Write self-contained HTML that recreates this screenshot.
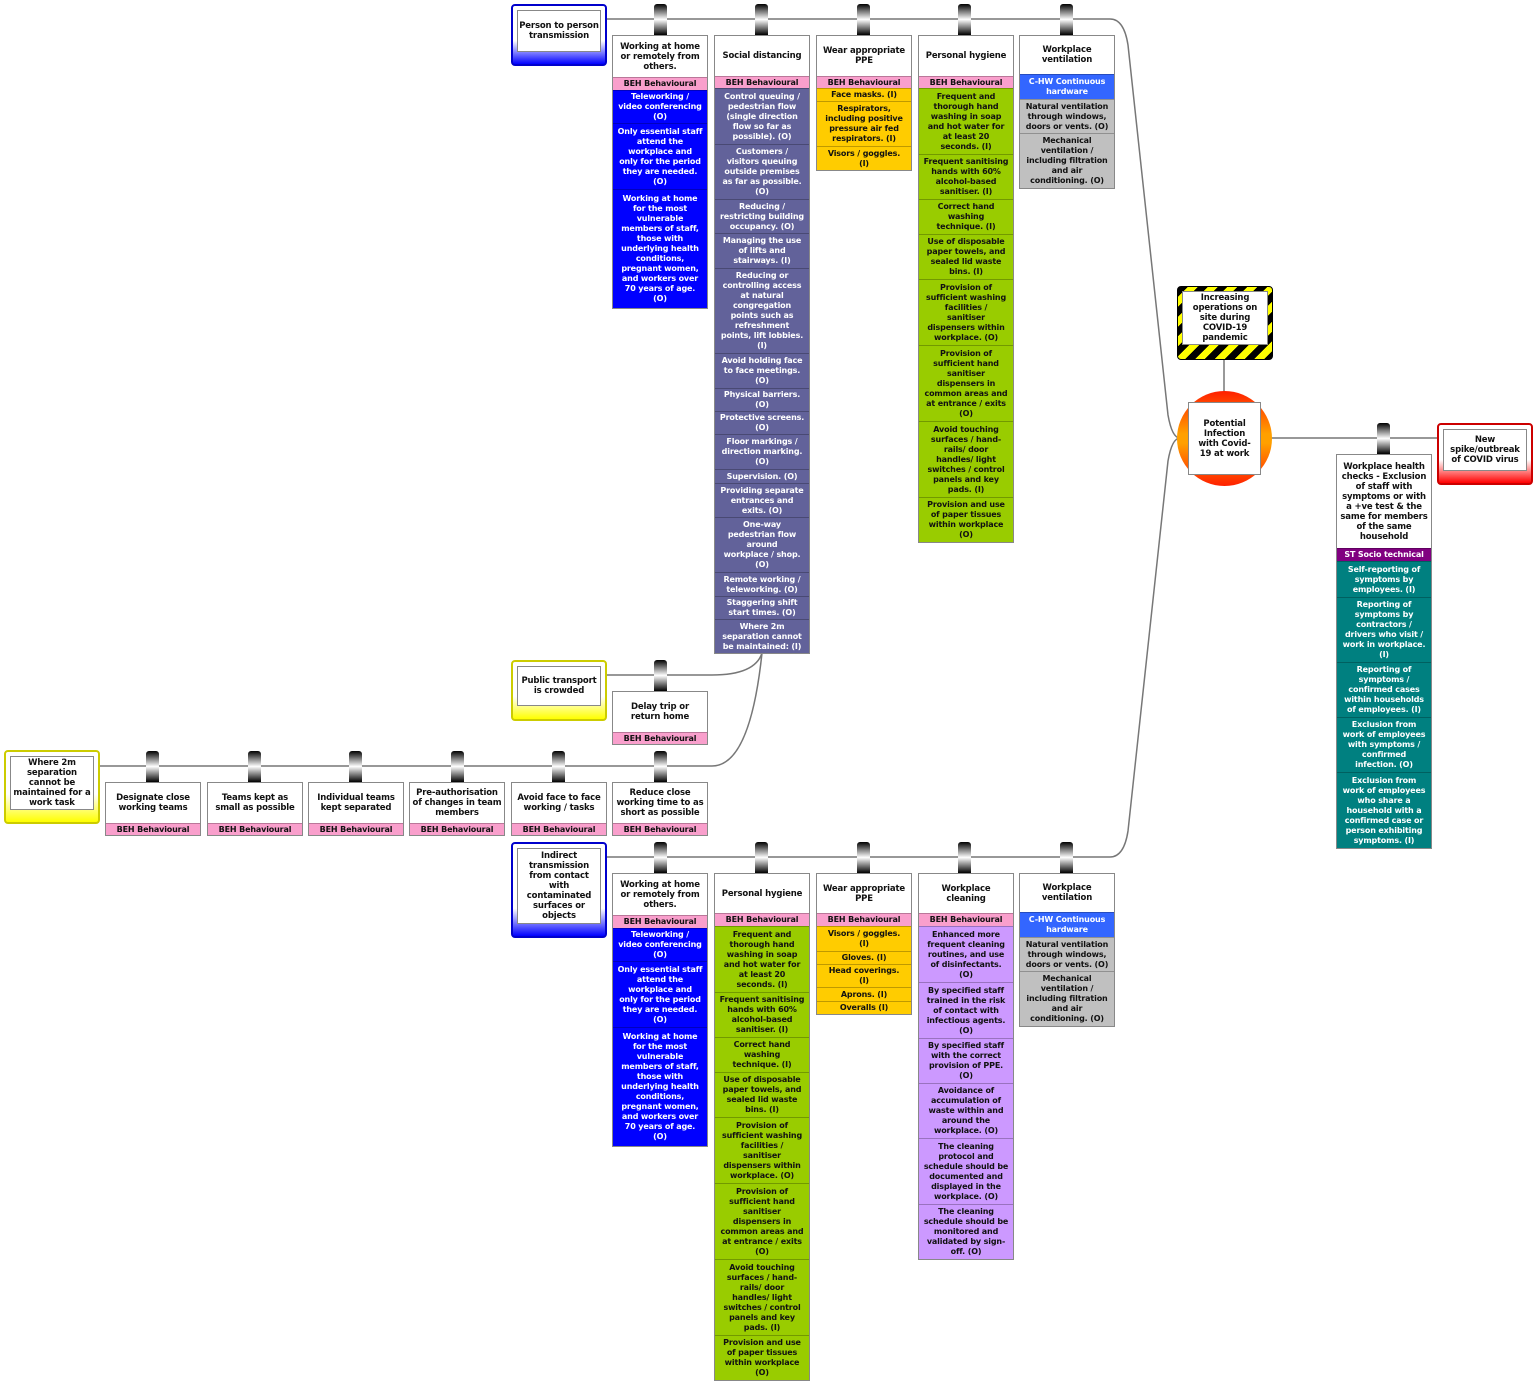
<!DOCTYPE html>
<html><head><meta charset="utf-8">
<style>
*{box-sizing:border-box;margin:0;padding:0}
body{width:1536px;height:1384px;background:#fff;position:relative;overflow:hidden;font-family:"DejaVu Sans","Liberation Sans",sans-serif;font-weight:bold;font-size:8px;line-height:10px;letter-spacing:-0.15px}
.col{position:absolute;width:96px;border:1px solid #888;background:#fff}
.c{display:flex;align-items:center;justify-content:center;text-align:center;overflow:hidden;border-top:1px solid rgba(0,0,0,.25);padding:0 1px}
.h{color:#111;font-size:8.5px;border-top:none}
.beh{background:#f99fcc;color:#111}
.bl{background:#0000ff;color:#fff}
.sl{background:#62629a;color:#fff}
.ye{background:#ffcc00;color:#111}
.gr{background:#99cc00;color:#111}
.gy{background:#c0c0c0;color:#111}
.hw{background:#3366ff;color:#fff}
.pu{background:#cc99ff;color:#111}
.te{background:#008080;color:#fff}
.st{background:#800080;color:#fff}
.peg{position:absolute;width:13px;height:31px;border-radius:3px 3px 0 0;background:linear-gradient(#000,#fff 50%,#000)}
.hz{position:absolute;border-radius:4px;padding:4px}
.hz div{background:#fff;border:1px solid #888;display:flex;align-items:center;justify-content:center;text-align:center;color:#111;font-size:8.5px}
</style></head><body>
<svg width="1536" height="1384" style="position:absolute;left:0;top:0" fill="none" stroke="#777" stroke-width="1.5">
<path d="M606,19 H1110 Q1124,19 1128,45 L1168,415 Q1172,438 1180,438"/>
<path d="M606,857 H1110 Q1124,857 1128,831 L1168,461 Q1172,438 1180,438"/>
<path d="M606,675 H712 Q755,675 762,653"/>
<path d="M100,766 H712 Q750,766 762,653"/>
<path d="M1224,359 V392"/>
<path d="M1270,438 H1437"/>
</svg>

<!-- hazards -->
<div class="hz" style="left:511px;top:4px;width:96px;height:62px;background:linear-gradient(#fff 60%,#0000ff);border:2px solid #0000cc"><div style="height:42px">Person to person<br>transmission</div></div>
<div class="hz" style="left:511px;top:842px;width:96px;height:96px;background:linear-gradient(#fff 70%,#0000ff);border:2px solid #0000cc"><div style="height:76px">Indirect<br>transmission<br>from contact<br>with<br>contaminated<br>surfaces or<br>objects</div></div>
<div class="hz" style="left:511px;top:660px;width:96px;height:61px;background:linear-gradient(#fff 60%,#ffff00);border:2px solid #cccc00"><div style="height:40px">Public transport<br>is crowded</div></div>
<div class="hz" style="left:4px;top:750px;width:96px;height:74px;background:linear-gradient(#fff 60%,#ffff00);border:2px solid #cccc00"><div style="height:54px">Where 2m<br>separation<br>cannot be<br>maintained for a<br>work task</div></div>
<div class="hz" style="left:1437px;top:423px;width:96px;height:62px;background:linear-gradient(#fff 60%,#ff0000);border:2px solid #cc0000"><div style="height:42px">New<br>spike/outbreak<br>of COVID virus</div></div>
<div class="hz" style="left:1177px;top:286px;width:96px;height:74px;background:repeating-linear-gradient(135deg,#000 0 7px,#ffff00 7px 14px);border:1px solid #000"><div style="height:54px">Increasing<br>operations on<br>site during<br>COVID-19<br>pandemic</div></div>
<div style="position:absolute;left:1177px;top:391px;width:95px;height:95px;border-radius:50%;background:linear-gradient(#ff2000,#ffa000 45%,#ffa000 55%,#ff2000)"></div>
<div class="hz" style="left:1187px;top:401px;width:75px;height:75px;padding:0"><div style="height:73px;width:73px;margin:1px">Potential<br>Infection<br>with Covid-<br>19 at work</div></div>

<!-- pegs -->
<div class="peg" style="left:654px;top:4px"></div><div class="peg" style="left:755px;top:4px"></div><div class="peg" style="left:857px;top:4px"></div><div class="peg" style="left:958px;top:4px"></div><div class="peg" style="left:1060px;top:4px"></div>
<div class="peg" style="left:654px;top:842px"></div><div class="peg" style="left:755px;top:842px"></div><div class="peg" style="left:857px;top:842px"></div><div class="peg" style="left:958px;top:842px"></div><div class="peg" style="left:1060px;top:842px"></div>
<div class="peg" style="left:654px;top:660px"></div>
<div class="peg" style="left:146px;top:751px"></div><div class="peg" style="left:248px;top:751px"></div><div class="peg" style="left:349px;top:751px"></div><div class="peg" style="left:451px;top:751px"></div><div class="peg" style="left:552px;top:751px"></div><div class="peg" style="left:654px;top:751px"></div>
<div class="peg" style="left:1377px;top:423px"></div>

<!-- top row -->
<div class="col" style="left:612px;top:35px">
<div class="c h" style="height:41px">Working at home<br>or remotely from<br>others.</div>
<div class="c beh" style="height:13px">BEH Behavioural</div>
<div class="c bl" style="height:33px">Teleworking /<br>video conferencing<br>(O)</div>
<div class="c bl" style="height:66px">Only essential staff<br>attend the<br>workplace and<br>only for the period<br>they are needed.<br>(O)</div>
<div class="c bl" style="height:119px">Working at home<br>for the most<br>vulnerable<br>members of staff,<br>those with<br>underlying health<br>conditions,<br>pregnant women,<br>and workers over<br>70 years of age.<br>(O)</div>
</div>
<div class="col" style="left:714px;top:35px">
<div class="c h" style="height:40px">Social distancing</div>
<div class="c beh" style="height:12px">BEH Behavioural</div>
<div class="c sl" style="height:56px">Control queuing /<br>pedestrian flow<br>(single direction<br>flow so far as<br>possible). (O)</div>
<div class="c sl" style="height:55px">Customers /<br>visitors queuing<br>outside premises<br>as far as possible.<br>(O)</div>
<div class="c sl" style="height:34px">Reducing /<br>restricting building<br>occupancy. (O)</div>
<div class="c sl" style="height:35px">Managing the use<br>of lifts and<br>stairways. (I)</div>
<div class="c sl" style="height:85px">Reducing or<br>controlling access<br>at natural<br>congregation<br>points such as<br>refreshment<br>points, lift lobbies.<br>(I)</div>
<div class="c sl" style="height:35px">Avoid holding face<br>to face meetings.<br>(O)</div>
<div class="c sl" style="height:23px">Physical barriers.<br>(O)</div>
<div class="c sl" style="height:23px">Protective screens.<br>(O)</div>
<div class="c sl" style="height:35px">Floor markings /<br>direction marking.<br>(O)</div>
<div class="c sl" style="height:14px">Supervision. (O)</div>
<div class="c sl" style="height:34px">Providing separate<br>entrances and<br>exits. (O)</div>
<div class="c sl" style="height:55px">One-way<br>pedestrian flow<br>around<br>workplace / shop.<br>(O)</div>
<div class="c sl" style="height:24px">Remote working /<br>teleworking. (O)</div>
<div class="c sl" style="height:23px">Staggering shift<br>start times. (O)</div>
<div class="c sl" style="height:34px">Where 2m<br>separation cannot<br>be maintained: (I)</div>
</div>
<div class="col" style="left:816px;top:35px">
<div class="c h" style="height:40px">Wear appropriate<br>PPE</div>
<div class="c beh" style="height:12px">BEH Behavioural</div>
<div class="c ye" style="height:13px">Face masks. (I)</div>
<div class="c ye" style="height:45px">Respirators,<br>including positive<br>pressure air fed<br>respirators. (I)</div>
<div class="c ye" style="height:24px">Visors / goggles.<br>(I)</div>
</div>
<div class="col" style="left:918px;top:35px">
<div class="c h" style="height:40px">Personal hygiene</div>
<div class="c beh" style="height:12px">BEH Behavioural</div>
<div class="c gr" style="height:66px">Frequent and<br>thorough hand<br>washing in soap<br>and hot water for<br>at least 20<br>seconds. (I)</div>
<div class="c gr" style="height:45px">Frequent sanitising<br>hands with 60%<br>alcohol-based<br>sanitiser. (I)</div>
<div class="c gr" style="height:35px">Correct hand<br>washing<br>technique. (I)</div>
<div class="c gr" style="height:45px">Use of disposable<br>paper towels, and<br>sealed lid waste<br>bins. (I)</div>
<div class="c gr" style="height:66px">Provision of<br>sufficient washing<br>facilities /<br>sanitiser<br>dispensers within<br>workplace. (O)</div>
<div class="c gr" style="height:76px">Provision of<br>sufficient hand<br>sanitiser<br>dispensers in<br>common areas and<br>at entrance / exits<br>(O)</div>
<div class="c gr" style="height:76px">Avoid touching<br>surfaces / hand-<br>rails/ door<br>handles/ light<br>switches / control<br>panels and key<br>pads. (I)</div>
<div class="c gr" style="height:45px">Provision and use<br>of paper tissues<br>within workplace<br>(O)</div>
</div>
<div class="col" style="left:1019px;top:35px">
<div class="c h" style="height:38px">Workplace<br>ventilation</div>
<div class="c hw" style="height:25px">C-HW Continuous<br>hardware</div>
<div class="c gy" style="height:34px">Natural ventilation<br>through windows,<br>doors or vents. (O)</div>
<div class="c gy" style="height:55px">Mechanical<br>ventilation /<br>including filtration<br>and air<br>conditioning. (O)</div>
</div>

<!-- public transport -->
<div class="col" style="left:612px;top:691px">
<div class="c h" style="height:40px">Delay trip or<br>return home</div>
<div class="c beh" style="height:12px">BEH Behavioural</div>
</div>

<!-- where 2m row -->
<div class="col" style="left:105px;top:782px"><div class="c h" style="height:40px">Designate close<br>working teams</div><div class="c beh" style="height:12px">BEH Behavioural</div></div>
<div class="col" style="left:207px;top:782px"><div class="c h" style="height:40px">Teams kept as<br>small as possible</div><div class="c beh" style="height:12px">BEH Behavioural</div></div>
<div class="col" style="left:308px;top:782px"><div class="c h" style="height:40px">Individual teams<br>kept separated</div><div class="c beh" style="height:12px">BEH Behavioural</div></div>
<div class="col" style="left:409px;top:782px"><div class="c h" style="height:40px">Pre-authorisation<br>of changes in team<br>members</div><div class="c beh" style="height:12px">BEH Behavioural</div></div>
<div class="col" style="left:511px;top:782px"><div class="c h" style="height:40px">Avoid face to face<br>working / tasks</div><div class="c beh" style="height:12px">BEH Behavioural</div></div>
<div class="col" style="left:612px;top:782px"><div class="c h" style="height:40px">Reduce close<br>working time to as<br>short as possible</div><div class="c beh" style="height:12px">BEH Behavioural</div></div>

<!-- bottom row -->
<div class="col" style="left:612px;top:873px">
<div class="c h" style="height:41px">Working at home<br>or remotely from<br>others.</div>
<div class="c beh" style="height:13px">BEH Behavioural</div>
<div class="c bl" style="height:33px">Teleworking /<br>video conferencing<br>(O)</div>
<div class="c bl" style="height:66px">Only essential staff<br>attend the<br>workplace and<br>only for the period<br>they are needed.<br>(O)</div>
<div class="c bl" style="height:119px">Working at home<br>for the most<br>vulnerable<br>members of staff,<br>those with<br>underlying health<br>conditions,<br>pregnant women,<br>and workers over<br>70 years of age.<br>(O)</div>
</div>
<div class="col" style="left:714px;top:873px">
<div class="c h" style="height:39px">Personal hygiene</div>
<div class="c beh" style="height:13px">BEH Behavioural</div>
<div class="c gr" style="height:66px">Frequent and<br>thorough hand<br>washing in soap<br>and hot water for<br>at least 20<br>seconds. (I)</div>
<div class="c gr" style="height:45px">Frequent sanitising<br>hands with 60%<br>alcohol-based<br>sanitiser. (I)</div>
<div class="c gr" style="height:35px">Correct hand<br>washing<br>technique. (I)</div>
<div class="c gr" style="height:45px">Use of disposable<br>paper towels, and<br>sealed lid waste<br>bins. (I)</div>
<div class="c gr" style="height:66px">Provision of<br>sufficient washing<br>facilities /<br>sanitiser<br>dispensers within<br>workplace. (O)</div>
<div class="c gr" style="height:76px">Provision of<br>sufficient hand<br>sanitiser<br>dispensers in<br>common areas and<br>at entrance / exits<br>(O)</div>
<div class="c gr" style="height:76px">Avoid touching<br>surfaces / hand-<br>rails/ door<br>handles/ light<br>switches / control<br>panels and key<br>pads. (I)</div>
<div class="c gr" style="height:45px">Provision and use<br>of paper tissues<br>within workplace<br>(O)</div>
</div>
<div class="col" style="left:816px;top:873px">
<div class="c h" style="height:39px">Wear appropriate<br>PPE</div>
<div class="c beh" style="height:13px">BEH Behavioural</div>
<div class="c ye" style="height:25px">Visors / goggles.<br>(I)</div>
<div class="c ye" style="height:13px">Gloves. (I)</div>
<div class="c ye" style="height:23px">Head coverings.<br>(I)</div>
<div class="c ye" style="height:14px">Aprons. (I)</div>
<div class="c ye" style="height:13px">Overalls (I)</div>
</div>
<div class="col" style="left:918px;top:873px">
<div class="c h" style="height:39px">Workplace<br>cleaning</div>
<div class="c beh" style="height:13px">BEH Behavioural</div>
<div class="c pu" style="height:56px">Enhanced more<br>frequent cleaning<br>routines, and use<br>of disinfectants.<br>(O)</div>
<div class="c pu" style="height:56px">By specified staff<br>trained in the risk<br>of contact with<br>infectious agents.<br>(O)</div>
<div class="c pu" style="height:45px">By specified staff<br>with the correct<br>provision of PPE.<br>(O)</div>
<div class="c pu" style="height:55px">Avoidance of<br>accumulation of<br>waste within and<br>around the<br>workplace. (O)</div>
<div class="c pu" style="height:66px">The cleaning<br>protocol and<br>schedule should be<br>documented and<br>displayed in the<br>workplace. (O)</div>
<div class="c pu" style="height:55px">The cleaning<br>schedule should be<br>monitored and<br>validated by sign-<br>off. (O)</div>
</div>
<div class="col" style="left:1019px;top:873px">
<div class="c h" style="height:38px">Workplace<br>ventilation</div>
<div class="c hw" style="height:25px">C-HW Continuous<br>hardware</div>
<div class="c gy" style="height:34px">Natural ventilation<br>through windows,<br>doors or vents. (O)</div>
<div class="c gy" style="height:55px">Mechanical<br>ventilation /<br>including filtration<br>and air<br>conditioning. (O)</div>
</div>

<!-- right -->
<div class="col" style="left:1336px;top:454px">
<div class="c h" style="height:93px">Workplace health<br>checks - Exclusion<br>of staff with<br>symptoms or with<br>a +ve test &amp; the<br>same for members<br>of the same<br>household</div>
<div class="c st" style="height:13px">ST Socio technical</div>
<div class="c te" style="height:36px">Self-reporting of<br>symptoms by<br>employees. (I)</div>
<div class="c te" style="height:65px">Reporting of<br>symptoms by<br>contractors /<br>drivers who visit /<br>work in workplace.<br>(I)</div>
<div class="c te" style="height:55px">Reporting of<br>symptoms /<br>confirmed cases<br>within households<br>of employees. (I)</div>
<div class="c te" style="height:55px">Exclusion from<br>work of employees<br>with symptoms /<br>confirmed<br>infection. (O)</div>
<div class="c te" style="height:76px">Exclusion from<br>work of employees<br>who share a<br>household with a<br>confirmed case or<br>person exhibiting<br>symptoms. (I)</div>
</div>
</body></html>
